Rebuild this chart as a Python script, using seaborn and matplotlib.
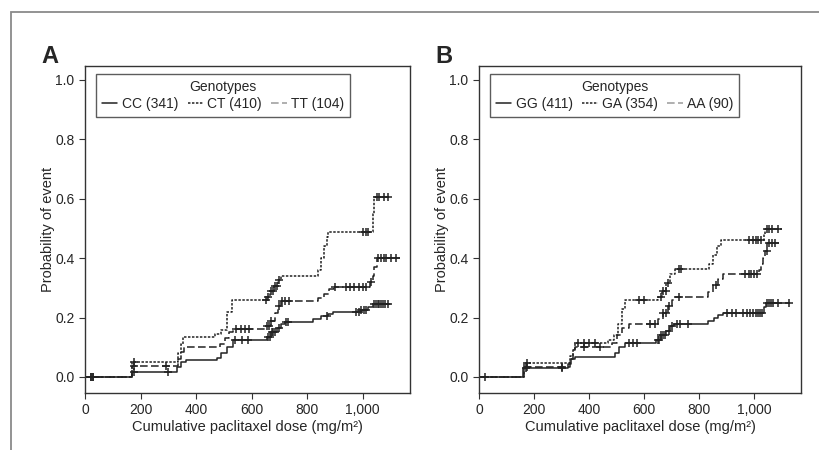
import numpy as np
import pandas as pd
import matplotlib
matplotlib.use("Agg")
import matplotlib.pyplot as plt
import seaborn as sns
from matplotlib.lines import Line2D
from matplotlib.patches import Rectangle

# panel A: genotype step curves (dose, cumulative probability)
cc_dose = [0, 168, 330, 345, 365, 474, 490, 510, 534, 654, 670, 690, 705, 719, 822, 850, 875, 893, 995, 1020, 1037, 1098]
cc_prob = [0, 0.018, 0.035, 0.05, 0.057, 0.065, 0.08, 0.10, 0.124, 0.135, 0.15, 0.165, 0.178, 0.186, 0.195, 0.205, 0.212, 0.219, 0.225, 0.235, 0.245, 0.245]
ct_dose = [0, 168, 335, 345, 352, 468, 490, 510, 528, 654, 665, 680, 695, 705, 840, 850, 860, 870, 876, 1038, 1042, 1092]
ct_prob = [0, 0.05, 0.08, 0.11, 0.135, 0.145, 0.158, 0.22, 0.258, 0.27, 0.29, 0.305, 0.325, 0.339, 0.36, 0.40, 0.44, 0.47, 0.488, 0.55, 0.605, 0.605]
tt_dose = [0, 168, 333, 345, 355, 487, 505, 520, 534, 650, 670, 685, 695, 705, 840, 860, 880, 895, 1026, 1035, 1042, 1050, 1134]
tt_prob = [0, 0.037, 0.06, 0.085, 0.10, 0.11, 0.13, 0.15, 0.163, 0.17, 0.19, 0.215, 0.24, 0.256, 0.265, 0.28, 0.295, 0.303, 0.32, 0.34, 0.37, 0.40, 0.40]

cc_cens = [20, 30, 175, 300, 540, 565, 585, 660, 665, 672, 678, 685, 700, 725, 730, 870, 975, 985, 995, 1005, 1012, 1040, 1048, 1055, 1060, 1066, 1072, 1080, 1090]
ct_cens = [20, 30, 175, 650, 660, 668, 676, 684, 692, 700, 1000, 1010, 1020, 1050, 1060, 1075, 1090]
tt_cens = [175, 290, 545, 560, 575, 590, 655, 662, 670, 700, 710, 720, 735, 900, 940, 955, 970, 985, 1000, 1010, 1030, 1055, 1065, 1075, 1085, 1100, 1120]

# panel B
gg_dose = [0, 161, 324, 335, 348, 493, 510, 529, 644, 660, 680, 695, 710, 831, 855, 870, 886, 1036, 1042, 1127]
gg_prob = [0, 0.029, 0.045, 0.06, 0.068, 0.08, 0.10, 0.113, 0.125, 0.14, 0.155, 0.17, 0.18, 0.19, 0.2, 0.21, 0.216, 0.235, 0.25, 0.25]
ga_dose = [0, 165, 330, 340, 348, 469, 490, 505, 518, 529, 651, 665, 680, 695, 712, 837, 850, 865, 879, 1036, 1040, 1101]
ga_prob = [0, 0.046, 0.07, 0.095, 0.113, 0.124, 0.14, 0.18, 0.23, 0.258, 0.27, 0.29, 0.315, 0.345, 0.365, 0.38, 0.41, 0.44, 0.46, 0.48, 0.499, 0.499]
aa_dose = [0, 165, 330, 340, 348, 484, 500, 520, 546, 651, 670, 685, 700, 710, 831, 850, 870, 886, 1018, 1025, 1032, 1040, 1048, 1091]
aa_prob = [0, 0.032, 0.06, 0.09, 0.102, 0.115, 0.14, 0.165, 0.18, 0.195, 0.215, 0.24, 0.26, 0.27, 0.285, 0.31, 0.33, 0.348, 0.36, 0.38, 0.40, 0.425, 0.45, 0.45]

gg_cens = [20, 170, 300, 545, 560, 575, 650, 655, 662, 668, 675, 690, 700, 720, 730, 760, 900, 920, 935, 960, 975, 985, 995, 1005, 1012, 1020, 1028, 1045, 1052, 1060, 1070, 1085, 1127]
ga_cens = [175, 360, 380, 400, 420, 580, 600, 660, 670, 678, 686, 725, 735, 980, 995, 1005, 1015, 1025, 1045, 1055, 1065, 1085]
aa_cens = [175, 300, 380, 440, 620, 640, 670, 680, 690, 725, 860, 965, 980, 990, 1000, 1010, 1045, 1055, 1065, 1075]

panel_a = [("CC (341)", cc_dose, cc_prob, cc_cens), ("CT (410)", ct_dose, ct_prob, ct_cens), ("TT (104)", tt_dose, tt_prob, tt_cens)]
panel_b = [("GG (411)", gg_dose, gg_prob, gg_cens), ("GA (354)", ga_dose, ga_prob, ga_cens), ("AA (90)", aa_dose, aa_prob, aa_cens)]

styles = [dict(ls="-", dashes=None), dict(ls="--", dashes=(1.6, 1.0)), dict(ls="--", dashes=(5, 2.2))]
legend_colors = ["#222222", "#222222", "#9a9a9a"]

sns.set_style("ticks")
plt.rcParams["font.family"] = ["Liberation Sans", "DejaVu Sans"]
plt.rcParams["font.size"] = 10

fig = plt.figure(figsize=(8.19, 4.5), dpi=100)
fig.patches.append(Rectangle((11 / 819, -0.1), 1.2, (450 - 12) / 450 + 0.1, transform=fig.transFigure,
                             fill=False, edgecolor="#8a8a8a", linewidth=1.3))
ax_a = fig.add_axes([85 / 819, 1 - 393 / 450, 325 / 819, 327 / 450])
ax_b = fig.add_axes([479 / 819, 1 - 393 / 450, 322 / 819, 327 / 450])


def step_value(dose, prob, x):
    idx = np.searchsorted(dose, x, side="right") - 1
    return np.asarray(prob)[idx]


def draw_panel(ax, groups, letter):
    handles = []
    for (label, dose, prob, cens), st, lc in zip(groups, styles, legend_colors):
        df = pd.DataFrame({"dose": dose, "prob": prob})
        kw = dict(color="#222222", linewidth=1.1, drawstyle="steps-post")
        if st["dashes"] is not None:
            kw["dashes"] = st["dashes"]
        sns.lineplot(data=df, x="dose", y="prob", ax=ax, estimator=None, sort=False, legend=False, **kw)
        cdf = pd.DataFrame({"dose": cens, "prob": step_value(dose, prob, np.asarray(cens))})
        sns.scatterplot(data=cdf, x="dose", y="prob", ax=ax, marker="+", s=34, color="#222222",
                        linewidth=1.1, legend=False)
        h = Line2D([0], [0], color=lc, linewidth=1.1)
        if st["dashes"] is not None:
            h.set_dashes(st["dashes"])
        h.set_label(label)
        handles.append(h)

    ax.set_xlim(0, 1170)
    ax.set_ylim(-0.054, 1.047)
    ax.set_xticks([0, 200, 400, 600, 800, 1000])
    ax.set_xticklabels(["0", "200", "400", "600", "800", "1,000"])
    ax.set_yticks([0, 0.2, 0.4, 0.6, 0.8, 1.0])
    ax.set_yticklabels(["0.0", "0.2", "0.4", "0.6", "0.8", "1.0"])
    ax.tick_params(direction="out", length=4, width=0.8, labelsize=10, color="#333333")
    for sp in ax.spines.values():
        sp.set_visible(True)
        sp.set_color("#333333")
        sp.set_linewidth(1.0)
    ax.set_xlabel("Cumulative paclitaxel dose (mg/m²)", fontsize=10.5, labelpad=2)
    ax.set_ylabel("Probability of event", fontsize=10.5, labelpad=0)
    leg = ax.legend(handles=handles, title="Genotypes", ncol=3, loc="upper left",
                    bbox_to_anchor=(0.012, 0.998), fontsize=10, title_fontsize=10,
                    frameon=True, fancybox=False, edgecolor="#333333", handlelength=1.1,
                    handletextpad=0.3, columnspacing=0.7, borderpad=0.45, labelspacing=0.2)
    leg.get_frame().set_linewidth(1.0)
    ax.text(-0.135, 1.03, letter, transform=ax.transAxes, fontsize=17, fontweight="bold",
            ha="left", va="center")


draw_panel(ax_a, panel_a, "A")
draw_panel(ax_b, panel_b, "B")

fig.savefig("out.png", dpi=100)
